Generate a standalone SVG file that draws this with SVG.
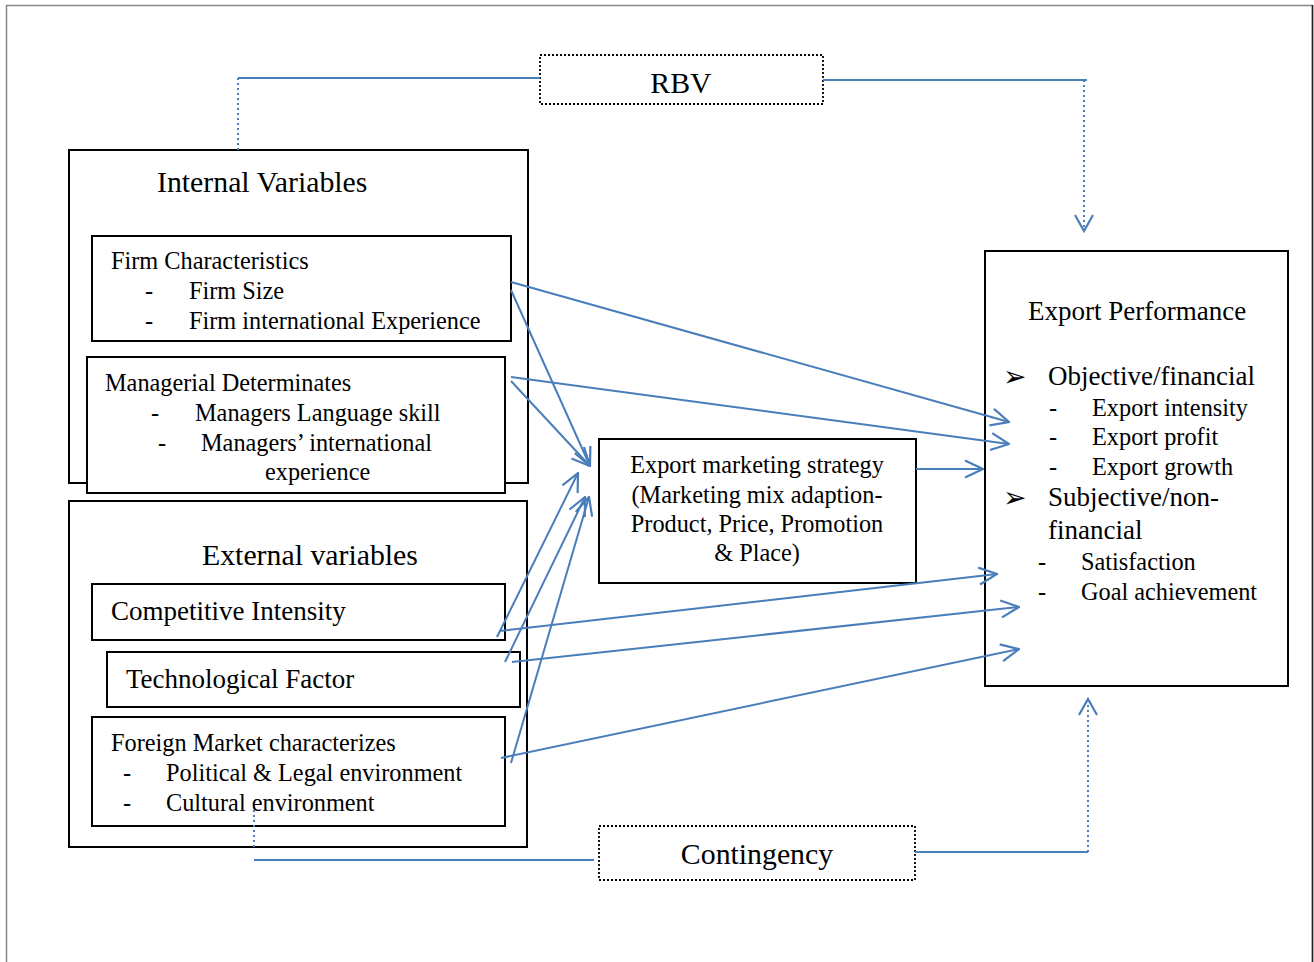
<svg xmlns="http://www.w3.org/2000/svg" width="1314" height="962" viewBox="0 0 1314 962">
<style>
text{font-family:"Liberation Serif","Times New Roman",serif;fill:#000}
.box{fill:#fff;stroke:#000;stroke-width:2}
.dbox{fill:#fff;stroke:#000;stroke-width:1.8;stroke-dasharray:2 2}
.c{fill:none;stroke:#4a7ebb;stroke-width:2}
.d{fill:none;stroke:#4a7ebb;stroke-width:2;stroke-dasharray:2 3}
.s21{font-size:24.3px}
.s23{font-size:27px}
.s26{font-size:29.8px}
.mid{text-anchor:middle}
.arr{font-family:"DejaVu Sans",sans-serif;font-size:28px}
</style>
<defs>
<marker id="ah" viewBox="0 0 20 20" refX="18" refY="10" markerWidth="20" markerHeight="20" markerUnits="userSpaceOnUse" orient="auto">
<path d="M2,1 L18,10 L2,19" fill="none" stroke="#4a7ebb" stroke-width="2.2"/>
</marker>
<marker id="ah2" viewBox="0 0 20 20" refX="19" refY="10" markerWidth="20" markerHeight="20" markerUnits="userSpaceOnUse" orient="auto">
<path d="M1,1.5 L19,10 L1,18.5" fill="none" stroke="#4a7ebb" stroke-width="2.2"/>
</marker>
</defs>
<rect width="1314" height="962" fill="#fff"/>
<path d="M6.5,962 V5.5 H1312.5 V962" fill="none" stroke="#888" stroke-width="1.5"/>
<line x1="1312.5" y1="5" x2="1312.5" y2="962" stroke="#222" stroke-width="1.5"/>

<g id="internal">
<rect class="box" x="69" y="150" width="459" height="333"/>
<text class="s26" x="157" y="192">Internal Variables</text>
</g>
<g id="firm">
<rect class="box" x="92" y="236" width="419" height="105"/>
<text class="s21" x="111" y="269">Firm Characteristics</text>
<text class="s21" x="145" y="299">-</text><text class="s21" x="189" y="299">Firm Size</text>
<text class="s21" x="145" y="329">-</text><text class="s21" x="189" y="329">Firm international Experience</text>
</g>
<g id="managerial">
<rect class="box" x="87" y="357" width="418" height="136"/>
<text class="s21" x="105" y="391">Managerial Determinates</text>
<text class="s21" x="151" y="421">-</text><text class="s21" x="195" y="421">Managers Language skill</text>
<text class="s21" x="158" y="451">-</text><text class="s21" x="201" y="451">Managers’ international</text>
<text class="s21" x="265" y="480">experience</text>
</g>
<g id="external">
<rect class="box" x="69" y="501" width="458" height="346"/>
<text class="s26" x="202" y="565">External variables</text>
</g>
<g id="competitive">
<rect class="box" x="92" y="584" width="413" height="56"/>
<text class="s23" x="111" y="620">Competitive Intensity</text>
</g>
<g id="technological">
<rect class="box" x="107" y="652" width="413" height="55"/>
<text class="s23" x="126" y="688">Technological Factor</text>
</g>
<g id="foreign">
<rect class="box" x="92" y="717" width="413" height="109"/>
<text class="s21" x="111" y="751">Foreign Market characterizes</text>
<text class="s21" x="123" y="781">-</text><text class="s21" x="166" y="781">Political &amp; Legal environment</text>
<text class="s21" x="123" y="811">-</text><text class="s21" x="166" y="811">Cultural environment</text>
</g>
<g id="strategy">
<rect class="box" x="599" y="439" width="317" height="144"/>
<text class="s21 mid" x="757" y="473">Export marketing strategy</text>
<text class="s21 mid" x="757" y="503">(Marketing mix adaption-</text>
<text class="s21 mid" x="757" y="532">Product, Price, Promotion</text>
<text class="s21 mid" x="757" y="561">&amp; Place)</text>
</g>
<g id="performance">
<rect class="box" x="985" y="251" width="303" height="435"/>
<text class="s23" x="1028" y="320">Export Performance</text>
<text class="arr" x="1003" y="386">➢</text><text class="s23" x="1048" y="385">Objective/financial</text>
<text class="s21" x="1049" y="416">-</text><text class="s21" x="1092" y="416">Export intensity</text>
<text class="s21" x="1049" y="445">-</text><text class="s21" x="1092" y="445">Export profit</text>
<text class="s21" x="1049" y="475">-</text><text class="s21" x="1092" y="475">Export growth</text>
<text class="arr" x="1003" y="507">➢</text><text class="s23" x="1048" y="506">Subjective/non-</text>
<text class="s23" x="1048" y="539">financial</text>
<text class="s21" x="1038" y="570">-</text><text class="s21" x="1081" y="570">Satisfaction</text>
<text class="s21" x="1038" y="600">-</text><text class="s21" x="1081" y="600">Goal achievement</text>
</g>
<g id="rbv">
<rect class="dbox" x="540" y="55" width="283" height="49"/>
<text class="s26 mid" x="681" y="93">RBV</text>
</g>
<g id="contingency">
<rect class="dbox" x="599" y="826" width="316" height="54"/>
<text class="s26 mid" x="757" y="864">Contingency</text>
</g>

<g id="connectors">
<path class="c" d="M238,78 H540"/>
<path class="d" d="M238,78 V150"/>
<path class="c" d="M823,80 H1087"/>
<path class="d" d="M1084,80 V231" marker-end="url(#ah)"/>
<path class="c" d="M254,860 H594"/>
<path class="d" d="M254,810 V848"/>
<path class="c" d="M915,852 H1088"/>
<path class="d" d="M1088,852 V699" marker-end="url(#ah)"/>

<line class="c" x1="511" y1="282" x2="1009" y2="422" marker-end="url(#ah2)"/>
<line class="c" x1="511" y1="290" x2="590" y2="466" marker-end="url(#ah2)"/>
<line class="c" x1="511" y1="377" x2="1009" y2="444" marker-end="url(#ah2)"/>
<line class="c" x1="511" y1="381" x2="590" y2="466" marker-end="url(#ah2)"/>
<line class="c" x1="916" y1="469" x2="983" y2="469" marker-end="url(#ah2)"/>
<line class="c" x1="497" y1="637" x2="578" y2="473" marker-end="url(#ah2)"/>
<line class="c" x1="505" y1="662" x2="585" y2="497" marker-end="url(#ah2)"/>
<line class="c" x1="511" y1="763" x2="589" y2="497" marker-end="url(#ah2)"/>
<line class="c" x1="500" y1="631" x2="997" y2="574" marker-end="url(#ah2)"/>
<line class="c" x1="512" y1="662" x2="1019" y2="607" marker-end="url(#ah2)"/>
<line class="c" x1="501" y1="758" x2="1019" y2="649" marker-end="url(#ah2)"/>
</g>
</svg>
